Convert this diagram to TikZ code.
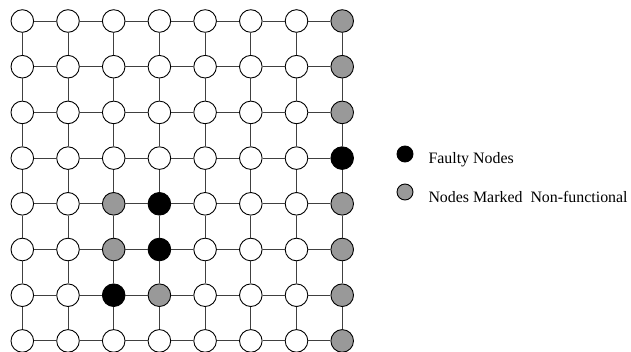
\documentclass[tikz,border=0pt]{standalone}
\usepackage{fontspec}
\setmainfont{Liberation Serif}
\begin{document}
\begin{tikzpicture}[x=1pt,y=-1pt,
  gnode/.style={circle,draw=black,line width=0.9pt,minimum size=22.6pt,inner sep=0pt,fill=white},
  faulty/.style={fill=black},
  marked/.style={fill=black!40},
  link/.style={draw=black!75,line width=0.9pt},
  lnode/.style={circle,draw=black,line width=0.9pt,minimum size=16pt,inner sep=0pt},
  ltext/.style={anchor=base west,inner sep=0pt,font=\fontsize{15.9}{18}\selectfont}]
\useasboundingbox (0,0) rectangle (631,351);
\begin{scope}
\clip (0,0) rectangle (631,351);
\foreach \r in {0,...,7}{
  \foreach \c in {0,...,7}{
    \pgfmathsetmacro{\xx}{22.3+45.7*\c}
    \pgfmathsetmacro{\yy}{21+45.7*\r}
    \def\sty{}
    \ifnum\c=7 \def\sty{marked}\fi
    \ifnum\r=3 \ifnum\c=7 \def\sty{faulty}\fi\fi
    \ifnum\r=4 \ifnum\c=2 \def\sty{marked}\fi \ifnum\c=3 \def\sty{faulty}\fi\fi
    \ifnum\r=5 \ifnum\c=2 \def\sty{marked}\fi \ifnum\c=3 \def\sty{faulty}\fi\fi
    \ifnum\r=6 \ifnum\c=2 \def\sty{faulty}\fi \ifnum\c=3 \def\sty{marked}\fi\fi
    \node[gnode,\sty] (n-\r-\c) at (\xx,\yy) {};
  }
}
\foreach \r in {0,...,7}{
  \foreach \c [evaluate=\c as \cn using int(\c+1)] in {0,...,6}{
    \draw[link] (n-\r-\c) -- (n-\r-\cn);
  }
}
\foreach \c in {0,...,7}{
  \foreach \r [evaluate=\r as \rn using int(\r+1)] in {0,...,6}{
    \draw[link] (n-\r-\c) -- (n-\rn-\c);
  }
}
\end{scope}
\node[lnode,fill=black] (lf) at (405,154) {};
\node[lnode,fill=black!40] (lm) at (405,192) {};
\node[ltext] (tf) at (428.3,163.5) {Faulty Nodes};
\node[ltext] (tm) at (428.3,202) {Nodes Marked\ \ Non-functional};
\end{tikzpicture}
\end{document}
